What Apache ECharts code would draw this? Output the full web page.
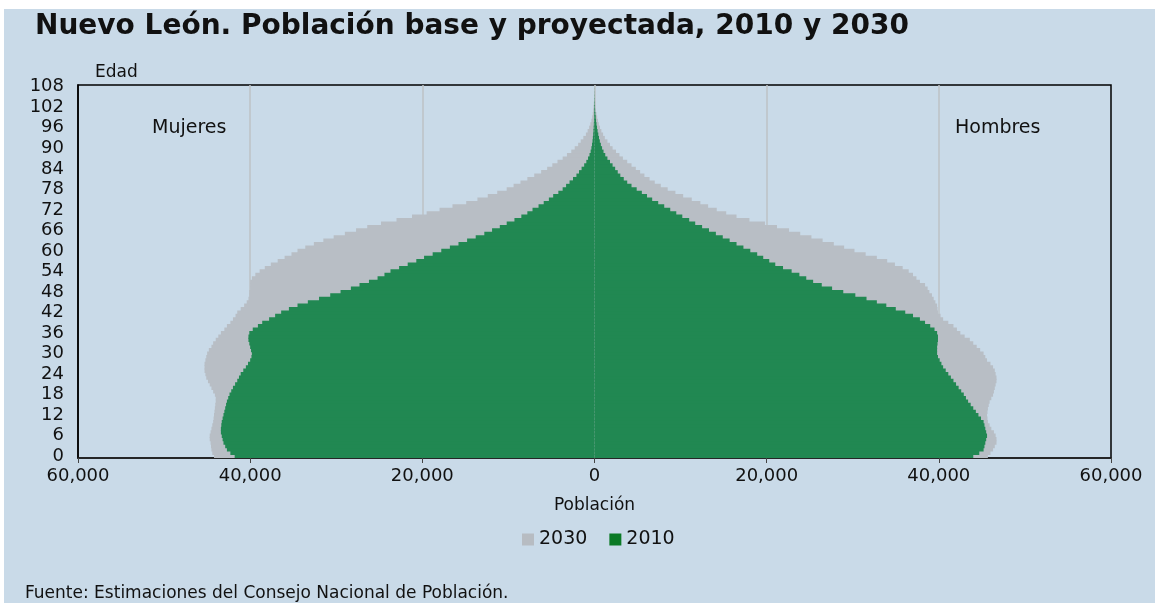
<!DOCTYPE html>
<html>
<head>
<meta charset="utf-8">
<title>Nuevo León. Población base y proyectada</title>
<script src="https://cdn.jsdelivr.net/npm/echarts@6/dist/echarts.min.js"></script>
<style>
  html, body { margin: 0; padding: 0; background: #ffffff; }
  #chart { position: absolute; left: 4px; top: 9px; width: 1151px; height: 594px; }
</style>
</head>
<body>
<div id="chart"></div>
<script>
// ages 0..108
var edades = [];
for (var i = 0; i <= 108; i++) { edades.push(String(i)); }

// Mujeres 2010, ages 0..108
var mujeres2010 = [
  41800, 42300, 42700, 42900, 43100, 43200, 43300, 43400, 43400, 43350,
  43300, 43200, 43100, 43000, 42900, 42800, 42700, 42550, 42400, 42200,
  42000, 41750, 41500, 41300, 41100, 40800, 40500, 40250, 40000, 39850,
  39800, 39900, 40000, 40100, 40200, 40200, 40100, 39700, 39100, 38600,
  37800, 37100, 36400, 35500, 34500, 33300, 32000, 30700, 29500, 28300,
  27300, 26200, 25200, 24400, 23700, 22700, 21700, 20700, 19800, 18800,
  17800, 16800, 15800, 14800, 13800, 12800, 11900, 11000, 10200, 9300,
  8500, 7800, 7200, 6500, 5900, 5300, 4800, 4200, 3700, 3300,
  2900, 2500, 2100, 1800, 1500, 1200, 950, 750, 580, 450,
  360, 290, 230, 190, 150, 120, 95, 75, 60, 45,
  35, 25, 20, 15, 10, 7, 5, 3, 2
];

// Mujeres 2030
var mujeres2030 = [
  44200, 44400, 44500, 44550, 44600, 44700, 44700, 44600, 44500, 44400,
  44300, 44250, 44200, 44150, 44100, 44050, 44000, 44000, 44100, 44300,
  44500, 44700, 44900, 45100, 45200, 45300, 45300, 45300, 45200, 45100,
  45000, 44800, 44500, 44300, 44000, 43700, 43400, 43000, 42700, 42300,
  42000, 41700, 41500, 41100, 40700, 40400, 40200, 40100, 40100, 40000,
  40000, 40000, 39800, 39400, 38900, 38300, 37600, 36800, 36000, 35200,
  34500, 33600, 32600, 31500, 30300, 29000, 27700, 26400, 24800, 23000,
  21200, 19500, 18000, 16500, 14900, 13600, 12400, 11300, 10200, 9400,
  8600, 7800, 7000, 6200, 5500, 4900, 4300, 3700, 3200, 2700,
  2300, 1900, 1600, 1300, 1000, 800, 620, 480, 360, 270,
  200, 150, 110, 80, 60, 40, 25, 15, 10
];

// Hombres 2010
var hombres2010 = [
  44000, 44700, 45200, 45300, 45400, 45500, 45600, 45500, 45400, 45300,
  45200, 44900, 44600, 44300, 44000, 43700, 43400, 43150, 42900, 42600,
  42300, 42000, 41700, 41400, 41100, 40800, 40500, 40300, 40100, 39900,
  39800, 39800, 39800, 39850, 39900, 39900, 39800, 39500, 39000, 38400,
  37800, 37000, 36100, 35000, 33900, 32800, 31600, 30300, 28900, 27600,
  26400, 25400, 24600, 23800, 22900, 21900, 21000, 20300, 19600, 18900,
  18100, 17300, 16500, 15700, 14900, 14100, 13300, 12500, 11700, 11000,
  10200, 9500, 8800, 8100, 7400, 6700, 6100, 5500, 4900, 4300,
  3800, 3400, 3000, 2700, 2400, 2100, 1800, 1500, 1250, 1050,
  880, 740, 620, 520, 440, 360, 290, 230, 180, 140,
  100, 70, 50, 35, 25, 15, 10, 6, 3
];

// Hombres 2030
var hombres2030 = [
  45700, 46000, 46300, 46500, 46700, 46700, 46600, 46400, 46100, 45900,
  45700, 45650, 45600, 45650, 45700, 45800, 45900, 46100, 46300, 46400,
  46500, 46600, 46700, 46700, 46600, 46500, 46300, 46000, 45600, 45400,
  45200, 44800, 44400, 44000, 43600, 43000, 42500, 42100, 41700, 41100,
  40500, 40200, 39900, 39850, 39800, 39600, 39400, 39200, 38900, 38700,
  38400, 37800, 37400, 37000, 36500, 35800, 34900, 34000, 32800, 31500,
  30200, 29000, 27800, 26500, 25200, 23900, 22600, 21200, 19800, 18000,
  16500, 15300, 14200, 13200, 12300, 11300, 10300, 9400, 8500, 7700,
  7000, 6400, 5800, 5300, 4800, 4300, 3800, 3300, 2900, 2500,
  2100, 1800, 1500, 1200, 1000, 800, 640, 500, 400, 310,
  230, 170, 120, 90, 60, 40, 25, 15, 8
];

var colorGris = '#b8bec5';
var colorVerde = '#218852';
var fuente = 'DejaVu Sans';

function izquierda(arr) {
  return arr.map(function (v) { return -v; });
}

// bars slightly wider than the band so neighbouring ages close up without seams
function barra(nombre, datos, color) {
  return {
    name: nombre,
    type: 'bar',
    data: datos,
    barGap: '-100%',
    barWidth: '125%',
    silent: true,
    itemStyle: { color: color }
  };
}

var myChart = echarts.init(document.getElementById('chart'));

var option = {
  backgroundColor: '#c9dae8',
  animation: false,
  textStyle: { fontFamily: fuente },
  title: {
    text: 'Nuevo León. Población base y proyectada, 2010 y 2030',
    left: 31,
    top: 4,
    padding: 0,
    textStyle: { fontFamily: fuente, fontSize: 28, fontWeight: 'bold', color: '#111' }
  },
  legend: {
    left: 513,
    top: 516,
    itemGap: 22,
    itemWidth: 12,
    itemHeight: 12,
    icon: 'rect',
    textStyle: { fontFamily: fuente, fontSize: 19, color: '#111' },
    data: [
      { name: '2030', itemStyle: { color: '#b7bcc2' } },
      { name: '2010', itemStyle: { color: '#0b7a26' } }
    ]
  },
  grid: {
    left: 74,
    right: 44,
    top: 76,
    bottom: 145,
    show: true,
    borderColor: '#000',
    borderWidth: 1.5,
    backgroundColor: 'transparent'
  },
  xAxis: {
    type: 'value',
    min: -60000,
    max: 60000,
    interval: 20000,
    name: 'Población',
    nameLocation: 'middle',
    nameGap: 39,
    nameTextStyle: { fontFamily: fuente, fontSize: 17, color: '#111' },
    axisLine: { show: true, onZero: false, lineStyle: { color: '#222', width: 1.5 } },
    axisTick: { show: true, length: 5, lineStyle: { color: '#444' } },
    splitLine: {
      show: true,
      showMinLine: false,
      showMaxLine: false,
      lineStyle: { color: '#bcc2c6', width: 1.5 }
    },
    axisLabel: {
      fontFamily: fuente,
      fontSize: 18,
      color: '#111',
      margin: 9,
      formatter: function (v) {
        return Math.abs(v).toString().replace(/\B(?=(\d{3})+(?!\d))/g, ',');
      }
    }
  },
  yAxis: {
    type: 'category',
    data: edades,
    axisLine: { show: true, onZero: false, lineStyle: { color: '#000', width: 1.5 } },
    axisTick: { show: false },
    splitLine: { show: false },
    axisLabel: {
      interval: 5,
      fontFamily: fuente,
      fontSize: 18,
      color: '#111',
      margin: 14
    }
  },
  graphic: [
    {
      type: 'text',
      left: 91,
      top: 55,
      style: { text: 'Edad', fontFamily: fuente, fontSize: 17, fill: '#111' }
    },
    {
      type: 'text',
      left: 148,
      top: 110,
      style: { text: 'Mujeres', fontFamily: fuente, fontSize: 19, fill: '#111' }
    },
    {
      type: 'text',
      left: 951,
      top: 110,
      style: { text: 'Hombres', fontFamily: fuente, fontSize: 19, fill: '#111' }
    },
    {
      type: 'text',
      left: 21,
      top: 576,
      style: { text: 'Fuente: Estimaciones del Consejo Nacional de Población.', fontFamily: fuente, fontSize: 17, fill: '#111' }
    }
  ],
  series: [
    barra('2030', izquierda(mujeres2030), colorGris),
    barra('2030', hombres2030, colorGris),
    barra('2010', izquierda(mujeres2010), colorVerde),
    barra('2010', hombres2010, colorVerde)
  ]
};

myChart.setOption(option);

window.addEventListener('resize', function () {
  myChart.resize();
});
</script>
</body>
</html>
